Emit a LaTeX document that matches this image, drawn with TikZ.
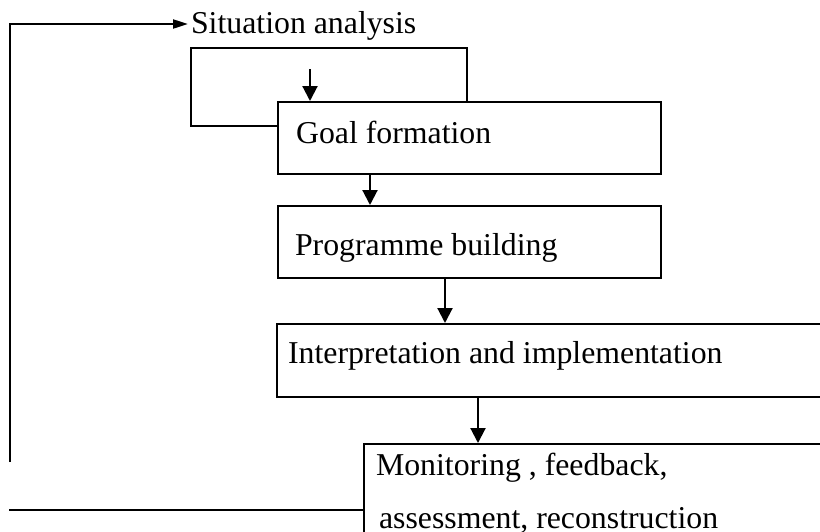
\documentclass[tikz,border=0pt]{standalone}
\usepackage{fontspec}
\setmainfont{Liberation Serif}
\usetikzlibrary{arrows.meta}
\begin{document}
\begin{tikzpicture}[x=1pt,y=-1pt,
  line width=2.1pt,
  box/.style={draw, fill=white, inner sep=0pt, anchor=north west},
  txt/.style={inner sep=0pt, anchor=base west, font=\fontsize{31.8}{38}\selectfont},
  arr/.style={-{Triangle[length=15pt,width=15pt]}},
  harr/.style={-{Triangle[length=15pt,width=9pt]}}]
\useasboundingbox (0,0) rectangle (820,531);
\clip (0,0) rectangle (820,531);

% frame around the entry arrow, partly hidden by the goal box
\node[box, fill=none, minimum width=276pt, minimum height=78pt] (frame) at (190,47) {};

% process boxes
\node[box, minimum width=383pt, minimum height=72pt] (goal) at (277,101) {};
\node[box, minimum width=383pt, minimum height=72pt] (prog) at (277,205) {};
\node[box, minimum width=640pt, minimum height=73pt] (interp) at (276,323) {};
\node[box, minimum width=560pt, minimum height=160pt] (mon) at (363,443) {};

% labels
\node[txt] (sit) at (190,33) {Situation analysis};
\node[txt] (goalt) at (295,143) {Goal formation};
\node[txt] (progt) at (294,255) {Programme building};
\node[txt] (interpt) at (287,363) {Interpretation and implementation};
\node[txt] (mont1) at (375,475) {Monitoring , feedback,};
\node[txt] (mont2) at (378,528) {assessment, reconstruction};

% flow between the steps
\coordinate (entry) at (310,69);
\draw[arr] (entry) -- ([xshift=33pt]goal.north west);
\draw[arr] ([xshift=93pt]goal.south west) -- ([xshift=93pt]prog.north west);
\draw[arr] ([xshift=168pt]prog.south west) -- ([xshift=169pt]interp.north west);
\draw[arr] ([xshift=202pt]interp.south west) -- ([xshift=115pt]mon.north west);

% feedback loop back to the situation analysis
\coordinate (fbend) at (9,510);
\draw ([yshift=-67pt]mon.north west) -- (fbend);
\coordinate (loopbot) at (10,462);
\coordinate (looptop) at (10,24);
\coordinate (sittip) at (188,24);
\draw[harr] (loopbot) -- (looptop) -- (sittip);
\end{tikzpicture}
\end{document}
